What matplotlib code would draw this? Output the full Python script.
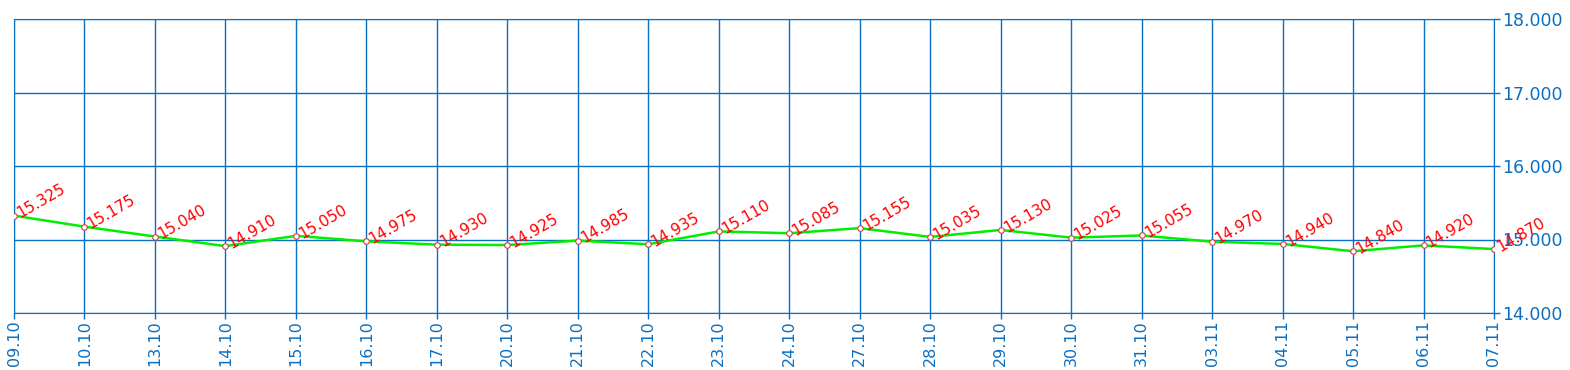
import matplotlib
matplotlib.use("Agg")
import matplotlib.pyplot as plt

# dates and prices
dates = ["09.10", "10.10", "13.10", "14.10", "15.10", "16.10", "17.10", "20.10",
         "21.10", "22.10", "23.10", "24.10", "27.10", "28.10", "29.10", "30.10",
         "31.10", "03.11", "04.11", "05.11", "06.11", "07.11"]
prices = [15.325, 15.175, 15.040, 14.910, 15.050, 14.975, 14.930, 14.925,
          14.985, 14.935, 15.110, 15.085, 15.155, 15.035, 15.130, 15.025,
          15.055, 14.970, 14.940, 14.840, 14.920, 14.870]
y_ticks = [14.0, 15.0, 16.0, 17.0, 18.0]

blue = "#0a6fc2"

fig = plt.figure(figsize=(15.7, 3.7), dpi=100)
ax = fig.add_axes([14 / 1570, 1 - 313 / 370, (1494 - 14) / 1570, (313 - 19) / 370])

x = list(range(len(dates)))
ax.plot(x, prices, color="#00ee00", linewidth=1.8, zorder=3)
ax.plot(x, prices, linestyle="none", marker="o", markersize=4,
        markerfacecolor="white", markeredgecolor="#d04040", markeredgewidth=0.8, zorder=4)

for xi, p in zip(x, prices):
    ax.annotate(f"{p:.3f}", (xi, p), xytext=(4.5, -2), textcoords="offset points",
                color="red", fontsize=11, rotation=30, ha="left", va="baseline",
                rotation_mode="anchor", zorder=5)

ax.set_xlim(0, len(dates) - 1)
ax.set_ylim(14, 18)
ax.set_xticks(x)
ax.set_xticklabels(dates, rotation=90)
ax.set_yticks(y_ticks)
ax.set_yticklabels([f"{v:.3f}" for v in y_ticks])
ax.yaxis.tick_right()

ax.grid(True, color=blue, linewidth=1)
ax.tick_params(colors=blue, labelcolor=blue, length=4, width=1)
ax.tick_params(axis="y", labelsize=12.5, pad=2)
ax.tick_params(axis="x", labelsize=11.5, pad=1)
for s in ax.spines.values():
    s.set_color(blue)

plt.savefig("out.png", dpi=100)
